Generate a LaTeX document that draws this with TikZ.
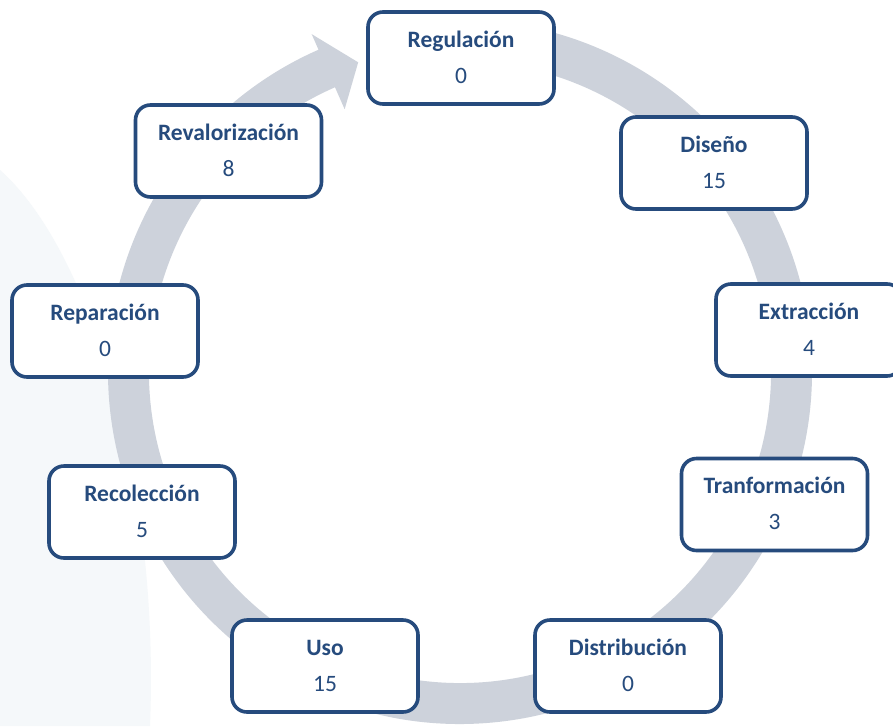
\documentclass[tikz,border=0pt]{standalone}
\usepackage{fontspec}
\setmainfont{Carlito}
\usetikzlibrary{calc}
\definecolor{navy}{HTML}{264B7D}
\definecolor{ringgray}{HTML}{CDD2DB}
\definecolor{wmark}{HTML}{F5F8FA}
\tikzset{
  stagebox/.style={draw=navy, line width=3.6pt, rounded corners=15pt, fill=white,
    minimum width=186pt, minimum height=92pt, inner sep=0pt},
  ttl/.style={anchor=base, text=navy, inner sep=0pt, font=\fontsize{23.5}{28}\selectfont\bfseries},
  num/.style={anchor=base, text=navy, inner sep=0pt, font=\fontsize{23.5}{28}\selectfont},
}
\newcommand\stagenode[4]{%
  \node[stagebox] (#1) at (#2) {};
  \node[ttl] (#1-t) at ([yshift=11pt]#1.center) {#3};
  \node[num] (#1-n) at ([yshift=-25pt]#1.center) {#4};
}
\begin{document}
\begin{tikzpicture}[x=1pt,y=1pt]
\clip (0,0) rectangle (893,-726);
\fill[white] (0,0) rectangle (893,-726);
% faint watermark
\fill[wmark] (0,-170) .. controls (90,-250) and (160,-480) .. (150,-726) -- (0,-726) -- cycle;
% ring with arrow head
\coordinate (C) at (460,-372);
\fill[ringgray] ($(C)+(95:352)$) arc[start angle=95, end angle=-246.3, radius=352pt]
  -- ($(C)+(113.7:369)$) -- ($(C)+(108.2:326)$) -- ($(C)+(113.7:287)$)
  -- ($(C)+(113.7:311)$) arc[start angle=-246.3, end angle=95, radius=311pt] -- cycle;
% stages
\stagenode{reg}{461,-58}{Regulación}{0}
\stagenode{dis}{714,-163}{Diseño}{15}
\stagenode{ext}{809,-330}{Extracción}{4}
\stagenode{tra}{774.5,-504.5}{Tranformación}{3}
\stagenode{dist}{628,-666}{Distribución}{0}
\stagenode{uso}{325,-666}{Uso}{15}
\stagenode{rec}{142,-512}{Recolección}{5}
\stagenode{rep}{105,-331}{Reparación}{0}
\stagenode{rev}{228.5,-151}{Revalorización}{8}
\end{tikzpicture}
\end{document}
